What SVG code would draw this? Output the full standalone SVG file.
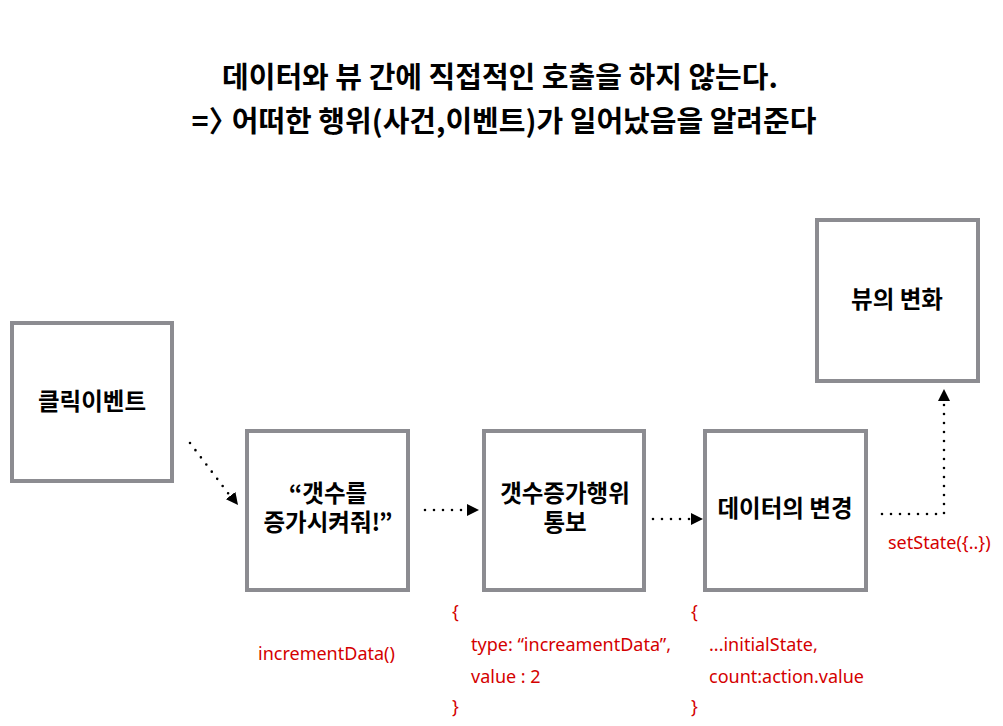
<svg xmlns="http://www.w3.org/2000/svg" width="1003" height="726" viewBox="0 0 1003 726">
<style>
.box{fill:#fff;stroke:#8c8c91;stroke-width:4}
.lbl{font-family:"Noto Sans CJK KR","Noto Sans",sans-serif;font-weight:700;font-size:23.5px;fill:#000;text-anchor:middle}
.ttl{font-family:"Noto Sans CJK KR","Noto Sans",sans-serif;font-weight:700;font-size:29px;fill:#000;text-anchor:middle}
.red{font-family:"Noto Sans","Noto Sans CJK KR",sans-serif;font-size:18px;fill:#d40000}
.dot{fill:none;stroke:#000;stroke-width:2.6;stroke-linecap:round;stroke-dasharray:0 9}
</style>
<defs>
<marker id="ah" viewBox="0 0 10 10" refX="10" refY="5" markerWidth="12" markerHeight="12" markerUnits="userSpaceOnUse" orient="auto">
<path d="M0,0 L10,5 L0,10 z" fill="#000"/>
</marker>
</defs>
<rect width="1003" height="726" fill="#fff"/>
<g id="title">
<text class="ttl" x="500" y="88">데이터와 뷰 간에 직접적인 호출을 하지 않는다.</text>
<text class="ttl" x="504" y="132">=〉<tspan dx="-6">어떠한 행위(사건,이벤트)가 일어났음을 알려준다</tspan></text>
</g>
<g id="node-click">
<rect class="box" x="12" y="323" width="160" height="158"/>
<text class="lbl" x="92" y="410">클릭이벤트</text>
</g>
<g id="node-request">
<rect class="box" x="247" y="431" width="161" height="159"/>
<text class="lbl" x="328" y="502">“갯수를</text>
<text class="lbl" x="328" y="531">증가시켜줘!”</text>
</g>
<g id="node-notify">
<rect class="box" x="484" y="431" width="160" height="159"/>
<text class="lbl" x="565" y="502">갯수증가행위</text>
<text class="lbl" x="565" y="531">통보</text>
</g>
<g id="node-data">
<rect class="box" x="705" y="431" width="161" height="159"/>
<text class="lbl" x="785" y="517">데이터의 변경</text>
</g>
<g id="node-view">
<rect class="box" x="817" y="220" width="161" height="161"/>
<text class="lbl" x="897" y="308">뷰의 변화</text>
</g>
<g id="connectors">
<path class="dot" d="M190,443 L231,497"/>
<path d="M190,443 L238,505" fill="none" stroke="none" marker-end="url(#ah)"/>
<path class="dot" d="M425,510 L468,510"/>
<path d="M425,510 L479,510" fill="none" stroke="none" marker-end="url(#ah)"/>
<path class="dot" d="M653,519 L692,519"/>
<path d="M653,519 L703,519" fill="none" stroke="none" marker-end="url(#ah)"/>
<path class="dot" d="M882,514 L944,514 L944,400"/>
<path d="M944,410 L944,389" fill="none" stroke="none" marker-end="url(#ah)"/>
</g>
<g id="code-labels">
<text class="red" x="258" y="660">incrementData()</text>
<text class="red" x="452" y="618">{</text>
<text class="red" x="471" y="651">type: “increamentData”,</text>
<text class="red" x="471" y="683">value : 2</text>
<text class="red" x="452" y="713">}</text>
<text class="red" x="691" y="618">{</text>
<text class="red" x="709" y="651">...initialState,</text>
<text class="red" x="709" y="683">count:action.value</text>
<text class="red" x="691" y="713">}</text>
<text class="red" x="888" y="549">setState({..})</text>
</g>
</svg>
